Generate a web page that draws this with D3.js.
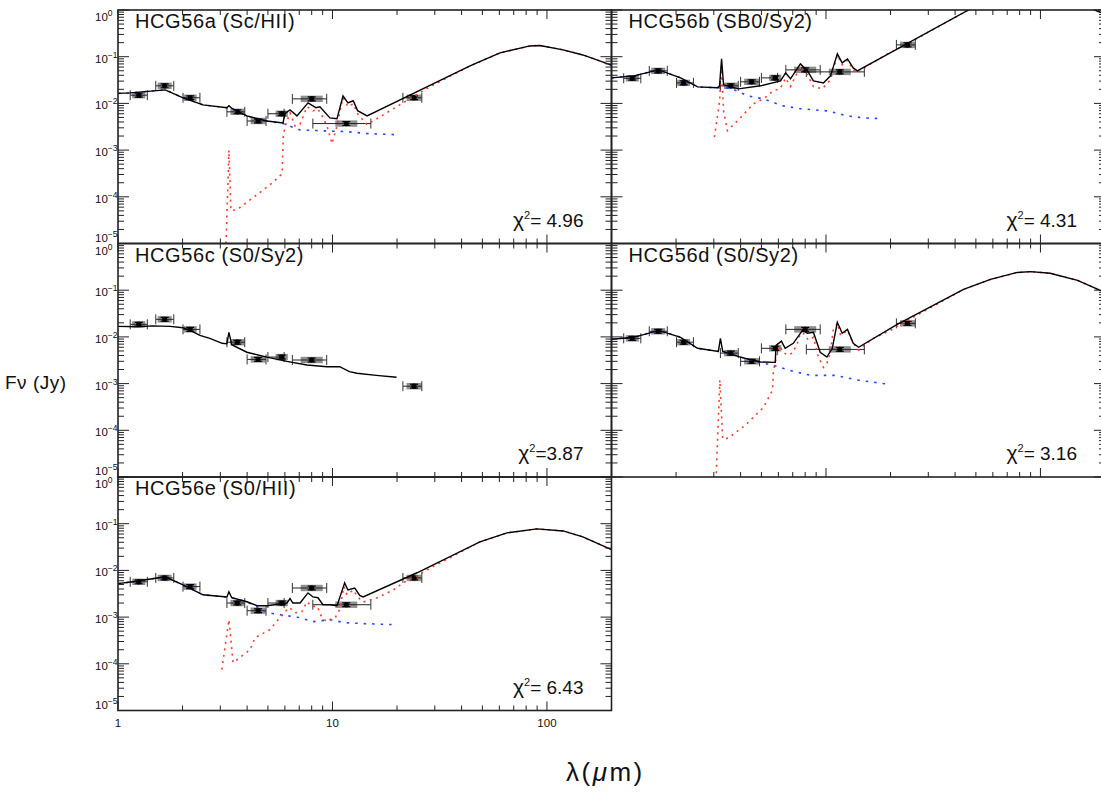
<!DOCTYPE html>
<html><head><meta charset="utf-8">
<script src="https://cdn.jsdelivr.net/npm/d3@7"></script>
<style>
body{margin:0;background:#fff}
svg{display:block}
text{font-family:"Liberation Sans",Arial,sans-serif;fill:#111}
</style>
</head><body>
<svg id="chart" width="1101" height="793"></svg>
<script>
// ---------------- DATA ----------------
const panelTitles = ["HCG56a (Sc/HII)", "HCG56b (SB0/Sy2)", "HCG56c (S0/Sy2)", "HCG56d (S0/Sy2)", "HCG56e (S0/HII)"];
const chi2Values = ["= 4.96", "= 4.31", "=3.87", "= 3.16", "= 6.43"];

// photometric bands (microns): centre and filter extent
const bandLam = [1.25, 1.65, 2.17, 3.6, 4.5, 5.8, 8.0, 11.6, 24];
const bandLo  = [1.14, 1.50, 2.01, 3.22, 4.0, 5.0, 6.5, 8.1, 21.3];
const bandHi  = [1.37, 1.82, 2.41, 3.9, 4.9, 5.95, 9.4, 15.1, 26.1];

// observed fluxes (Jy) per galaxy, null = not observed
const fluxA = [0.0150, 0.0238, 0.0132, 0.0066, 0.0042, 0.0060, 0.0125, 0.0037, 0.0132];
const fluxB = [0.0345, 0.0497, 0.0275, 0.0238, 0.0290, 0.0352, 0.0522, 0.0473, 0.179];
const fluxC = [0.0186, 0.0238, 0.0145, 0.0077, 0.0033, 0.0037, 0.0032, null, 0.00088];
const fluxD = [0.0093, 0.0132, 0.0077, 0.0045, 0.0030, 0.0057, 0.0145, 0.0054, 0.0195];
const fluxE = [0.0057, 0.0069, 0.0045, 0.0020, 0.00137, 0.0020, 0.0042, 0.00184, 0.0069];

// total model [lambda, F]
const totalA = [[1.0,0.0164],[1.14,0.0168],[1.66,0.0195],[2.01,0.0132],[2.49,0.0093],[3.22,0.0081],[3.29,0.0089],[3.4,0.0078],[3.99,0.0054],[4.95,0.0042],[5.88,0.0038],[6.0,0.0060],[6.34,0.0073],[6.83,0.0054],[7.69,0.0103],[8.38,0.0081],[8.74,0.0085],[9.73,0.0049],[10.5,0.0047],[11.2,0.0145],[11.8,0.0103],[12.5,0.0114],[13.1,0.0070],[14.5,0.0054],[43.8,0.0636],[60.4,0.1205],[83.3,0.170],[92.7,0.174],[119,0.140],[147,0.109],[200,0.066]];
const dustA = [[3.19,1.0e-5],[3.29,1.0e-3],[3.36,5.1e-5],[3.59,5.3e-5],[4.26,9.6e-5],[5.11,1.8e-4],[5.82,3.1e-4],[5.9,2.0e-3],[6.01,3.2e-3],[6.34,6.3e-3],[6.69,3.3e-3],[7.06,3.6e-3],[7.61,8.5e-3],[8.11,6.9e-3],[8.56,7.6e-3],[8.94,5.4e-3],[9.43,3.3e-3],[9.95,1.37e-3],[10.5,3.3e-3],[10.8,6.3e-3],[11.2,0.0132],[11.8,8.5e-3],[12.5,9.8e-3],[13.1,6.0e-3],[14.5,3.5e-3],[19.6,8.1e-3],[27.9,0.0216],[43.8,0.0636],[60.4,0.1205],[83.3,0.170],[92.7,0.174],[119,0.140],[147,0.109],[200,0.066]];
const starA = [[1.0,0.0164],[1.14,0.0168],[1.66,0.0195],[2.01,0.0132],[2.49,0.0093],[3.22,0.0081],[3.99,0.0054],[4.95,0.0042],[5.88,0.0037],[7.06,0.0027],[8.74,0.0026],[11.4,0.0025],[14.9,0.00224],[20.2,0.00213]];

const totalB = [[1.0,0.0352],[1.27,0.0389],[1.66,0.0522],[2.10,0.0352],[2.52,0.0226],[3.12,0.0216],[3.19,0.0238],[3.26,0.0897],[3.33,0.025],[3.91,0.0205],[4.95,0.0238],[6.14,0.0304],[6.48,0.045],[6.83,0.0336],[7.6,0.070],[8.2,0.0497],[8.74,0.0304],[9.73,0.0275],[10.5,0.0389],[11.3,0.115],[11.9,0.0737],[12.6,0.0897],[13.4,0.0576],[14.0,0.0497],[46.2,1.0],[60,1.6],[83,2.3],[93,2.35],[119,1.9],[147,1.4],[200,0.82]];
const dustB = [[3.02,0.0019],[3.19,0.011],[3.26,0.065],[3.33,0.007],[3.47,0.0026],[3.99,0.0049],[4.59,0.0098],[5.11,0.0125],[5.69,0.0186],[6.14,0.021],[6.48,0.035],[6.83,0.023],[7.6,0.062],[8.2,0.041],[8.74,0.023],[9.6,0.0205],[10.5,0.032],[11.3,0.108],[11.9,0.067],[12.6,0.084],[13.4,0.052],[14.0,0.045],[16.1,0.070],[19.4,0.115],[25,0.21],[46.2,1.0],[60,1.6],[83,2.3],[93,2.35],[119,1.9],[147,1.4],[200,0.82]];
const starB = [[1.0,0.0352],[1.27,0.0389],[1.66,0.0522],[2.10,0.0352],[2.52,0.0226],[3.12,0.0216],[3.59,0.0212],[4.31,0.0145],[5.11,0.0125],[6.27,0.0089],[7.6,0.0077],[10.2,0.0069],[12.6,0.0054],[15.0,0.0049],[18.5,0.0047]];

const totalC = [[1.0,0.0168],[1.24,0.0165],[1.45,0.0172],[1.75,0.0168],[2.01,0.0157],[2.17,0.0138],[2.41,0.0108],[2.68,0.0093],[3.06,0.0073],[3.22,0.0071],[3.29,0.0125],[3.39,0.0068],[3.99,0.0047],[4.95,0.0037],[6.13,0.0030],[7.6,0.0025],[9.43,0.0023],[10.8,0.0023],[12.0,0.0018],[13.0,0.00167],[16.0,0.0015],[19.9,0.00137]];

const totalD = [[1.0,0.0089],[1.27,0.0098],[1.66,0.0138],[2.10,0.0098],[2.52,0.0057],[3.15,0.0049],[3.22,0.0093],[3.3,0.0049],[3.99,0.0037],[4.95,0.0029],[5.8,0.00285],[5.85,0.0066],[6.2,0.0081],[6.45,0.0057],[7.04,0.0073],[7.77,0.0138],[8.2,0.012],[8.74,0.0126],[9.4,0.0047],[10.1,0.0037],[10.7,0.0057],[11.3,0.0205],[11.9,0.012],[12.6,0.0145],[13.4,0.0073],[14.2,0.0060],[21.5,0.0185],[43.8,0.104],[58.5,0.17],[78,0.24],[90,0.25],[111,0.23],[149,0.162],[190,0.099],[200,0.09]];
const dustD = [[3.08,1.2e-5],[3.2,1.2e-3],[3.3,6.5e-5],[3.5,6.8e-5],[4.22,1.3e-4],[5.11,3.1e-4],[5.63,7.2e-4],[5.69,1.9e-3],[5.8,2.9e-3],[5.95,4.5e-3],[6.07,6.6e-3],[6.32,4.7e-3],[6.61,4.1e-3],[6.97,4.5e-3],[7.36,7.3e-3],[7.6,0.0119],[7.85,0.0119],[8.29,8.5e-3],[8.74,9.8e-3],[9.22,3.7e-3],[9.73,2.24e-3],[10.1,2.7e-3],[10.5,4.7e-3],[10.8,0.0138],[11.3,0.0195],[11.7,0.0108],[12.6,0.0138],[13.4,7.3e-3],[14.2,5.2e-3],[16.6,9.3e-3],[20.0,0.0138],[22.2,0.0185],[43.8,0.104],[58.5,0.17],[78,0.24],[90,0.25],[111,0.23],[149,0.162],[190,0.099],[200,0.09]];
const starD = [[1.0,0.0089],[1.27,0.0098],[1.66,0.0138],[2.10,0.0098],[2.52,0.0057],[3.15,0.0049],[3.4,0.0046],[3.99,0.0037],[4.79,0.0029],[5.63,0.0025],[6.83,0.0019],[8.47,0.0015],[11.1,0.0015],[14.2,0.00118],[19.5,0.00097]];

const totalE = [[1.0,0.0052],[1.17,0.0057],[1.66,0.0073],[2.01,0.0049],[2.49,0.0030],[3.22,0.0027],[3.29,0.0035],[3.39,0.0026],[3.99,0.00213],[4.45,0.00175],[4.95,0.00175],[6.13,0.0020],[6.34,0.0025],[6.54,0.0020],[7.06,0.0020],[7.69,0.0033],[8.11,0.0027],[8.56,0.0026],[9.03,0.00184],[9.73,0.00184],[10.5,0.00175],[11.4,0.0054],[11.8,0.0038],[12.7,0.0042],[13.4,0.0029],[13.9,0.0027],[24.8,0.0089],[48.7,0.0408],[65.1,0.0636],[89.8,0.0774],[119,0.070],[147,0.0522],[200,0.028]];
const dustE = [[3.05,7.5e-5],[3.29,8.8e-4],[3.44,1.06e-4],[4.13,2.0e-4],[4.35,3.6e-4],[5.11,5.4e-4],[5.69,9.7e-4],[6.13,1.44e-3],[6.3,1.6e-3],[6.69,1.24e-3],[7.2,1.3e-3],[7.6,2.13e-3],[8.0,1.7e-3],[8.5,1.7e-3],[8.9,1.0e-3],[9.4,8e-4],[9.7,8.8e-4],[10.3,9.7e-4],[10.8,1.44e-3],[11.3,4.5e-3],[11.7,3.0e-3],[12.5,3.8e-3],[13.1,2.7e-3],[13.9,2.1e-3],[16.2,2.6e-3],[19.2,3.8e-3],[21.3,5.4e-3],[24.8,7.7e-3],[27.6,0.0103],[48.7,0.0408],[65.1,0.0636],[89.8,0.0774],[119,0.070],[147,0.0522],[200,0.028]];
const starE = [[1.0,0.0052],[1.17,0.0057],[1.66,0.0073],[2.01,0.0049],[2.49,0.0030],[3.22,0.0027],[3.39,0.0026],[3.99,0.00213],[5.0,0.00124],[7.06,0.00097],[8.11,0.0008],[9.73,0.00088],[11.4,0.00076],[14.5,0.00072],[19.5,0.00069]];

const xTickLabels = ["1", "10", "100"];
const yTickExponents = ["0", "\u22121", "\u22122", "\u22123", "\u22124", "\u22125"];

// ---------------- LAYOUT ----------------
const cols = [[118, 611.5], [611.5, 1105]];
const rows = [[10, 243.5], [243.5, 477], [477, 710.5]];
const panels = [
  {col:0,row:0,flux:fluxA,total:totalA,dust:dustA,star:starA},
  {col:1,row:0,flux:fluxB,total:totalB,dust:dustB,star:starB},
  {col:0,row:1,flux:fluxC,total:totalC,dust:null,star:null},
  {col:1,row:1,flux:fluxD,total:totalD,dust:dustD,star:starD},
  {col:0,row:2,flux:fluxE,total:totalE,dust:dustE,star:starE}
];

const svg = d3.select("#chart");
const xMajor = [1, 10, 100];
const xMinor = [];
[1, 10, 100].forEach(d => { for (let k = 2; k <= 9; k++) if (k*d <= 200) xMinor.push(k*d); });
const yMajor = [1, 1e-1, 1e-2, 1e-3, 1e-4, 1e-5];
const yMinor = [];
[1e-5, 1e-4, 1e-3, 1e-2, 1e-1].forEach(d => { for (let k = 2; k <= 9; k++) yMinor.push(k*d); });

const defs = svg.append("defs");

panels.forEach((p, i) => {
  const [x0, x1] = cols[p.col], [y0, y1] = rows[p.row];
  const x = d3.scaleLog().domain([1, 200]).range([x0, x1]);
  const y = d3.scaleLog().domain([1e-5, 1]).range([y1, y0]);
  const g = svg.append("g");
  defs.append("clipPath").attr("id", "clip" + i)
    .append("rect").attr("x", x0).attr("y", y0).attr("width", x1 - x0).attr("height", y1 - y0);
  const plot = g.append("g").attr("clip-path", `url(#clip${i})`);
  const line = d3.line().x(d => x(d[0])).y(d => y(d[1]));

  // data points with filter widths
  bandLam.forEach((lam, j) => {
    const f = p.flux[j];
    if (f == null) return;
    const cx = x(lam), cy = y(f);
    const lo = x(bandLo[j]), hi = x(bandHi[j]);
    const gw = Math.min(hi - lo - 4, 22);
    plot.append("rect").attr("x", cx - gw / 2).attr("y", cy - 3.2).attr("width", gw)
      .attr("height", 6.4).attr("fill", "#8f8f8f");
    plot.append("line").attr("x1", lo).attr("x2", hi).attr("y1", cy).attr("y2", cy)
      .attr("stroke", "#222").attr("stroke-width", 1);
    [lo, hi].forEach(xx => plot.append("line").attr("x1", xx).attr("x2", xx)
      .attr("y1", cy - 5).attr("y2", cy + 5).attr("stroke", "#333").attr("stroke-width", 1));
    const ya = y(f * 1.1), yb = y(f / 1.1);
    plot.append("line").attr("x1", cx).attr("x2", cx).attr("y1", ya).attr("y2", yb).attr("stroke", "#000").attr("stroke-width", 1.2);
    [ya, yb].forEach(yy => plot.append("line").attr("x1", cx - 4).attr("x2", cx + 4)
      .attr("y1", yy).attr("y2", yy).attr("stroke", "#000").attr("stroke-width", 1.2));
    plot.append("circle").attr("cx", cx).attr("cy", cy).attr("r", 2.6).attr("fill", "#000");
  });

  if (p.star) plot.append("path").datum(p.star).attr("d", line).attr("fill", "none")
    .attr("stroke", "#2448ff").attr("stroke-width", 1.6).attr("stroke-dasharray", "2.5,6");
  if (p.dust) plot.append("path").datum(p.dust).attr("d", line).attr("fill", "none")
    .attr("stroke", "#ff3a30").attr("stroke-width", 1.6).attr("stroke-dasharray", "2,4.5");
  plot.append("path").datum(p.total).attr("d", line).attr("fill", "none")
    .attr("stroke", "#000").attr("stroke-width", 1.4);

  // frame
  g.append("rect").attr("x", x0).attr("y", y0).attr("width", x1 - x0).attr("height", y1 - y0)
    .attr("fill", "none").attr("stroke", "#222").attr("stroke-width", 1.6);
  // x ticks (top and bottom, inward)
  const tk = (arr, len) => arr.forEach(v => {
    g.append("line").attr("x1", x(v)).attr("x2", x(v)).attr("y1", y1).attr("y2", y1 - len).attr("stroke", "#222").attr("stroke-width", 1);
    g.append("line").attr("x1", x(v)).attr("x2", x(v)).attr("y1", y0).attr("y2", y0 + len).attr("stroke", "#222").attr("stroke-width", 1);
  });
  tk(xMajor, 9); tk(xMinor, 5);
  const ytk = (arr, len) => arr.forEach(v => {
    g.append("line").attr("x1", x0).attr("x2", x0 + len).attr("y1", y(v)).attr("y2", y(v)).attr("stroke", "#222").attr("stroke-width", 1);
    g.append("line").attr("x1", x1).attr("x2", x1 - len).attr("y1", y(v)).attr("y2", y(v)).attr("stroke", "#222").attr("stroke-width", 1);
  });
  ytk(yMajor, 11); ytk(yMinor, 6);

  // y tick labels in left column
  if (p.col === 0) {
    yMajor.forEach((v, k) => {
      let dy = 6;
      if (k === 0) dy = 11;
      if (k === yMajor.length - 1) dy = -2;
      const t = g.append("text").attr("x", 95).attr("y", y(v) + dy).attr("font-size", 11.5);
      t.append("tspan").text("10");
      t.append("tspan").attr("dy", -5).attr("font-size", 8.5).text(yTickExponents[k]);
    });
  }
  // x tick labels on bottom-left panel
  if (i === 4) {
    xMajor.forEach((v, k) => g.append("text").attr("x", x(v)).attr("y", y1 + 16)
      .attr("text-anchor", "middle").attr("font-size", 11.5).text(xTickLabels[k]));
  }
  // title
  g.append("text").attr("x", x0 + 17).attr("y", y0 + 18).attr("font-size", 20)
    .attr("letter-spacing", 0.6).text(panelTitles[i]);
  // chi-square
  const c = g.append("text").attr("x", x1 - 28).attr("y", y1 - 17).attr("text-anchor", "end").attr("font-size", 19);
  c.append("tspan").attr("font-size", 21).text("\u03C7");
  c.append("tspan").attr("dy", -8).attr("font-size", 11).text("2");
  c.append("tspan").attr("dy", 8).text(chi2Values[i]);
});

svg.append("text").attr("x", 5).attr("y", 389).attr("font-size", 19).attr("fill", "#555")
  .attr("letter-spacing", 0.5).text("F\u03BD (Jy)");
const xl = svg.append("text").attr("x", 566).attr("y", 781).attr("font-size", 26).attr("letter-spacing", 2.5);
xl.append("tspan").text("\u03BB(");
xl.append("tspan").attr("font-style", "italic").text("\u03BC");
xl.append("tspan").text("m)");
</script>
</body></html>
